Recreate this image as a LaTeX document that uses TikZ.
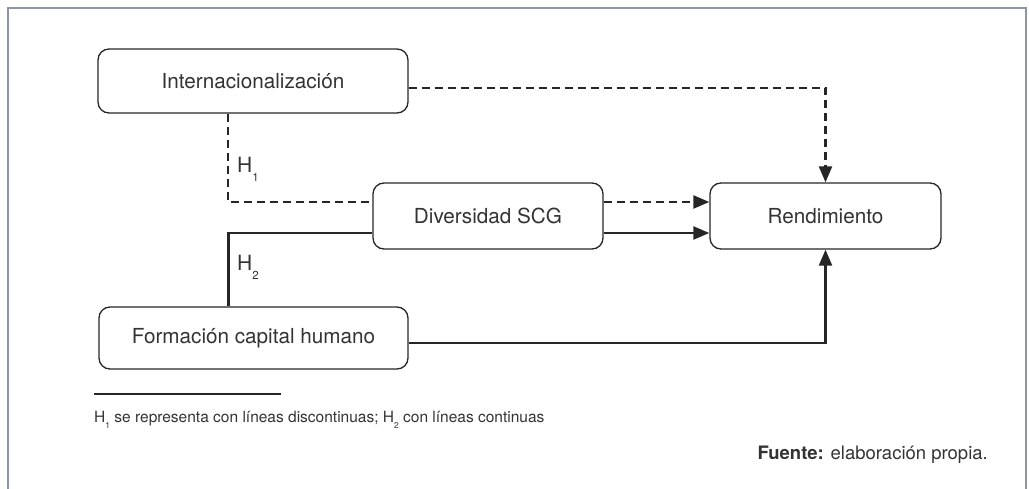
\documentclass[tikz,border=0pt]{standalone}
\usepackage{fontspec}
\setmainfont{TeX Gyre Heros}
\usetikzlibrary{arrows.meta,positioning}

\definecolor{tinta}{HTML}{262626}
\definecolor{texto}{HTML}{333333}
\definecolor{marco}{HTML}{8C95A3}
\newcommand{\hsub}[1]{H\raisebox{-0.4em}{\scalebox{0.55}{#1}}}

\begin{document}
\begin{tikzpicture}[x=1pt,y=-1pt,
   caja/.style={draw=tinta, line width=1.3pt, rounded corners=11pt, text=texto,
      font=\fontsize{20.7}{24}\selectfont, inner sep=0pt},
   etiqueta/.style={text=texto, font=\fontsize{21}{24}\selectfont, inner sep=0pt},
   conector/.style={draw=tinta, line width=2.3pt},
   hipo/.style={conector, dash pattern=on 8pt off 5pt},
   flecha/.style={-{Triangle[length=16pt,width=13pt]}}]

   \useasboundingbox (0,0) rectangle (1029,489);
   \draw[color=marco, line width=1.8pt] (8,489) -- (8,8) -- (1026,8) -- (1026,489);

   % cajas
   \node[caja, minimum width=310pt, minimum height=64pt] (intl) at (253,81) {Internacionalización};
   \node[caja, minimum width=230pt, minimum height=66pt] (div) at (488,216) {Diversidad SCG};
   \node[caja, minimum width=231pt, minimum height=66pt] (rend) at (825.5,216) {Rendimiento};
   \node[caja, minimum width=309pt, minimum height=62pt] (form) at (253.5,338) {Formación capital humano};

   % H1: lineas discontinuas
   \draw[hipo, flecha] ([yshift=-7pt]intl.east) -| (rend.north);
   \draw[hipo] ([xshift=-25pt]intl.south) |- ([yshift=14pt]div.west);
   \draw[hipo, flecha] ([yshift=14pt]div.east) -- ([yshift=14pt]rend.west);

   % H2: lineas continuas
   \draw[conector] ([xshift=-25pt]form.north) |- ([yshift=-17pt]div.west);
   \draw[conector, flecha] ([yshift=-17pt]div.east) -- ([yshift=-17pt]rend.west);
   \draw[conector, flecha] ([yshift=-5pt]form.east) -| (rend.south);

   \node[etiqueta, anchor=base west] (h1) at (237,173) {\hsub{1}};
   \node[etiqueta, anchor=base west] (h2) at (237,271) {\hsub{2}};

   % nota al pie
   \draw[color=tinta, line width=2pt] (94,394) -- (281,394);
   \node[text=texto, font=\fontsize{15.5}{18}\selectfont, inner sep=0pt, anchor=base west] (nota) at (94,422)
      {\hsub{1} se representa con líneas discontinuas; \hsub{2} con líneas continuas};
   \node[text=texto, font=\fontsize{18.5}{22}\selectfont, inner sep=0pt, anchor=base east] (fuente) at (988,459)
      {\textbf{Fuente:} elaboración propia.};

\end{tikzpicture}
\end{document}
